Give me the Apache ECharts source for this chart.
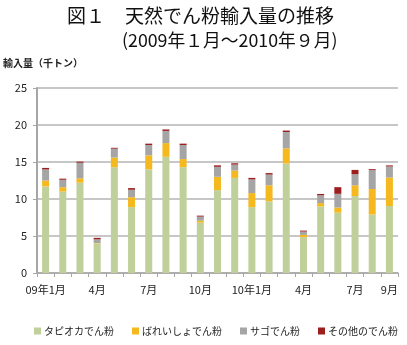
<!DOCTYPE html>
<html><head><meta charset="utf-8">
<script src="https://cdn.jsdelivr.net/npm/echarts@6/dist/echarts.min.js"></script>
<style>html,body{margin:0;padding:0;background:#fff}#c{width:407px;height:345px}</style>
</head><body><div id="c"></div>
<script>
const categories = ["09年1月","2月","3月","4月","5月","6月","7月","8月","9月","10月","11月","12月","10年1月","2月","3月","4月","5月","6月","7月","8月","9月"];
const shownLabels = ["09年1月","","","4月","","","7月","","","10月","","","10年1月","","","4月","","","7月","","9月"];
const tapioca = [11.7,11.0,12.2,4.0,14.3,8.9,14.0,15.7,14.3,6.8,11.2,12.85,8.9,9.7,14.8,4.85,9.0,8.15,10.4,7.9,9.05];
const potato  = [0.8,0.6,0.6,0.05,1.3,1.35,1.9,1.85,1.1,0.27,1.8,1.0,1.9,2.15,2.05,0.3,0.45,0.7,1.45,3.45,3.85];
const sago    = [1.5,1.0,2.1,0.5,1.2,1.0,1.4,1.65,1.9,0.55,1.35,0.8,1.85,1.45,2.2,0.45,1.05,1.85,1.5,2.55,1.5];
const other   = [0.2,0.15,0.15,0.2,0.12,0.22,0.18,0.2,0.18,0.13,0.2,0.18,0.2,0.2,0.2,0.13,0.18,0.9,0.58,0.13,0.14];
const seriesNames = ["タピオカでん粉","ばれいしょでん粉","サゴでん粉","その他のでん粉"];
const colors = ["#BFD09A","#F5B91F","#A5A5A5","#9C1E1E"];
const yTicks = [0,5,10,15,20,25];

const FONT = '"Noto Sans CJK JP", "Noto Sans", sans-serif';
const chart = echarts.init(document.getElementById('c'), null, {renderer:'canvas'});
const data = [tapioca, potato, sago, other];
const tStyle = (t,s)=>({text:t, fontSize:s, fontFamily:FONT, fill:'#111'});
chart.setOption({
  animation:false,
  textStyle:{fontFamily:FONT},
  graphic:[
    {type:'text', left:67, top:6, style:tStyle('図１',19)},
    {type:'text', left:125, top:6, style:tStyle('天然でん粉輸入量の推移',19)},
    {type:'text', left:122, top:31, style:tStyle('(2009年１月～2010年９月)',17.8)},
    {type:'text', left:3, top:58, style:{text:'輸入量（千トン）', fontSize:10, fontWeight:'bold', fontFamily:FONT, fill:'#222'}}
  ],
  legend:{
    bottom:4, left:29, itemWidth:7, itemHeight:7, itemGap:18,
    icon:'rect',
    textStyle:{fontSize:10, fontFamily:FONT, color:'#222', padding:[0,0,0,-2]},
    data:seriesNames
  },
  grid:{left:37, right:9, top:88, bottom:72, containLabel:false},
  xAxis:{
    type:'category', data:categories,
    axisLine:{lineStyle:{color:'#a6a6a6', width:1.5}},
    axisTick:{show:true, alignWithLabel:false, length:4, lineStyle:{color:'#a6a6a6'}},
    axisLabel:{interval:0, fontSize:11, color:'#222', margin:11, fontFamily:FONT,
      formatter:(v,i)=>shownLabels[i]}
  },
  yAxis:{
    type:'value', min:yTicks[0], max:yTicks[yTicks.length-1], interval:5,
    axisLine:{show:true, lineStyle:{color:'#a6a6a6', width:2}},
    axisTick:{show:true, length:4, inside:false, lineStyle:{color:'#a6a6a6'}},
    axisLabel:{fontSize:11, color:'#222', margin:10, fontFamily:FONT},
    splitLine:{lineStyle:{color:'#b4b4b4', width:1.5}}
  },
  series: seriesNames.map((n,k)=>({
    name:n, type:'bar', stack:'total', data:data[k], barWidth:7,
    itemStyle:{color:colors[k]}
  }))
});
</script></body></html>
